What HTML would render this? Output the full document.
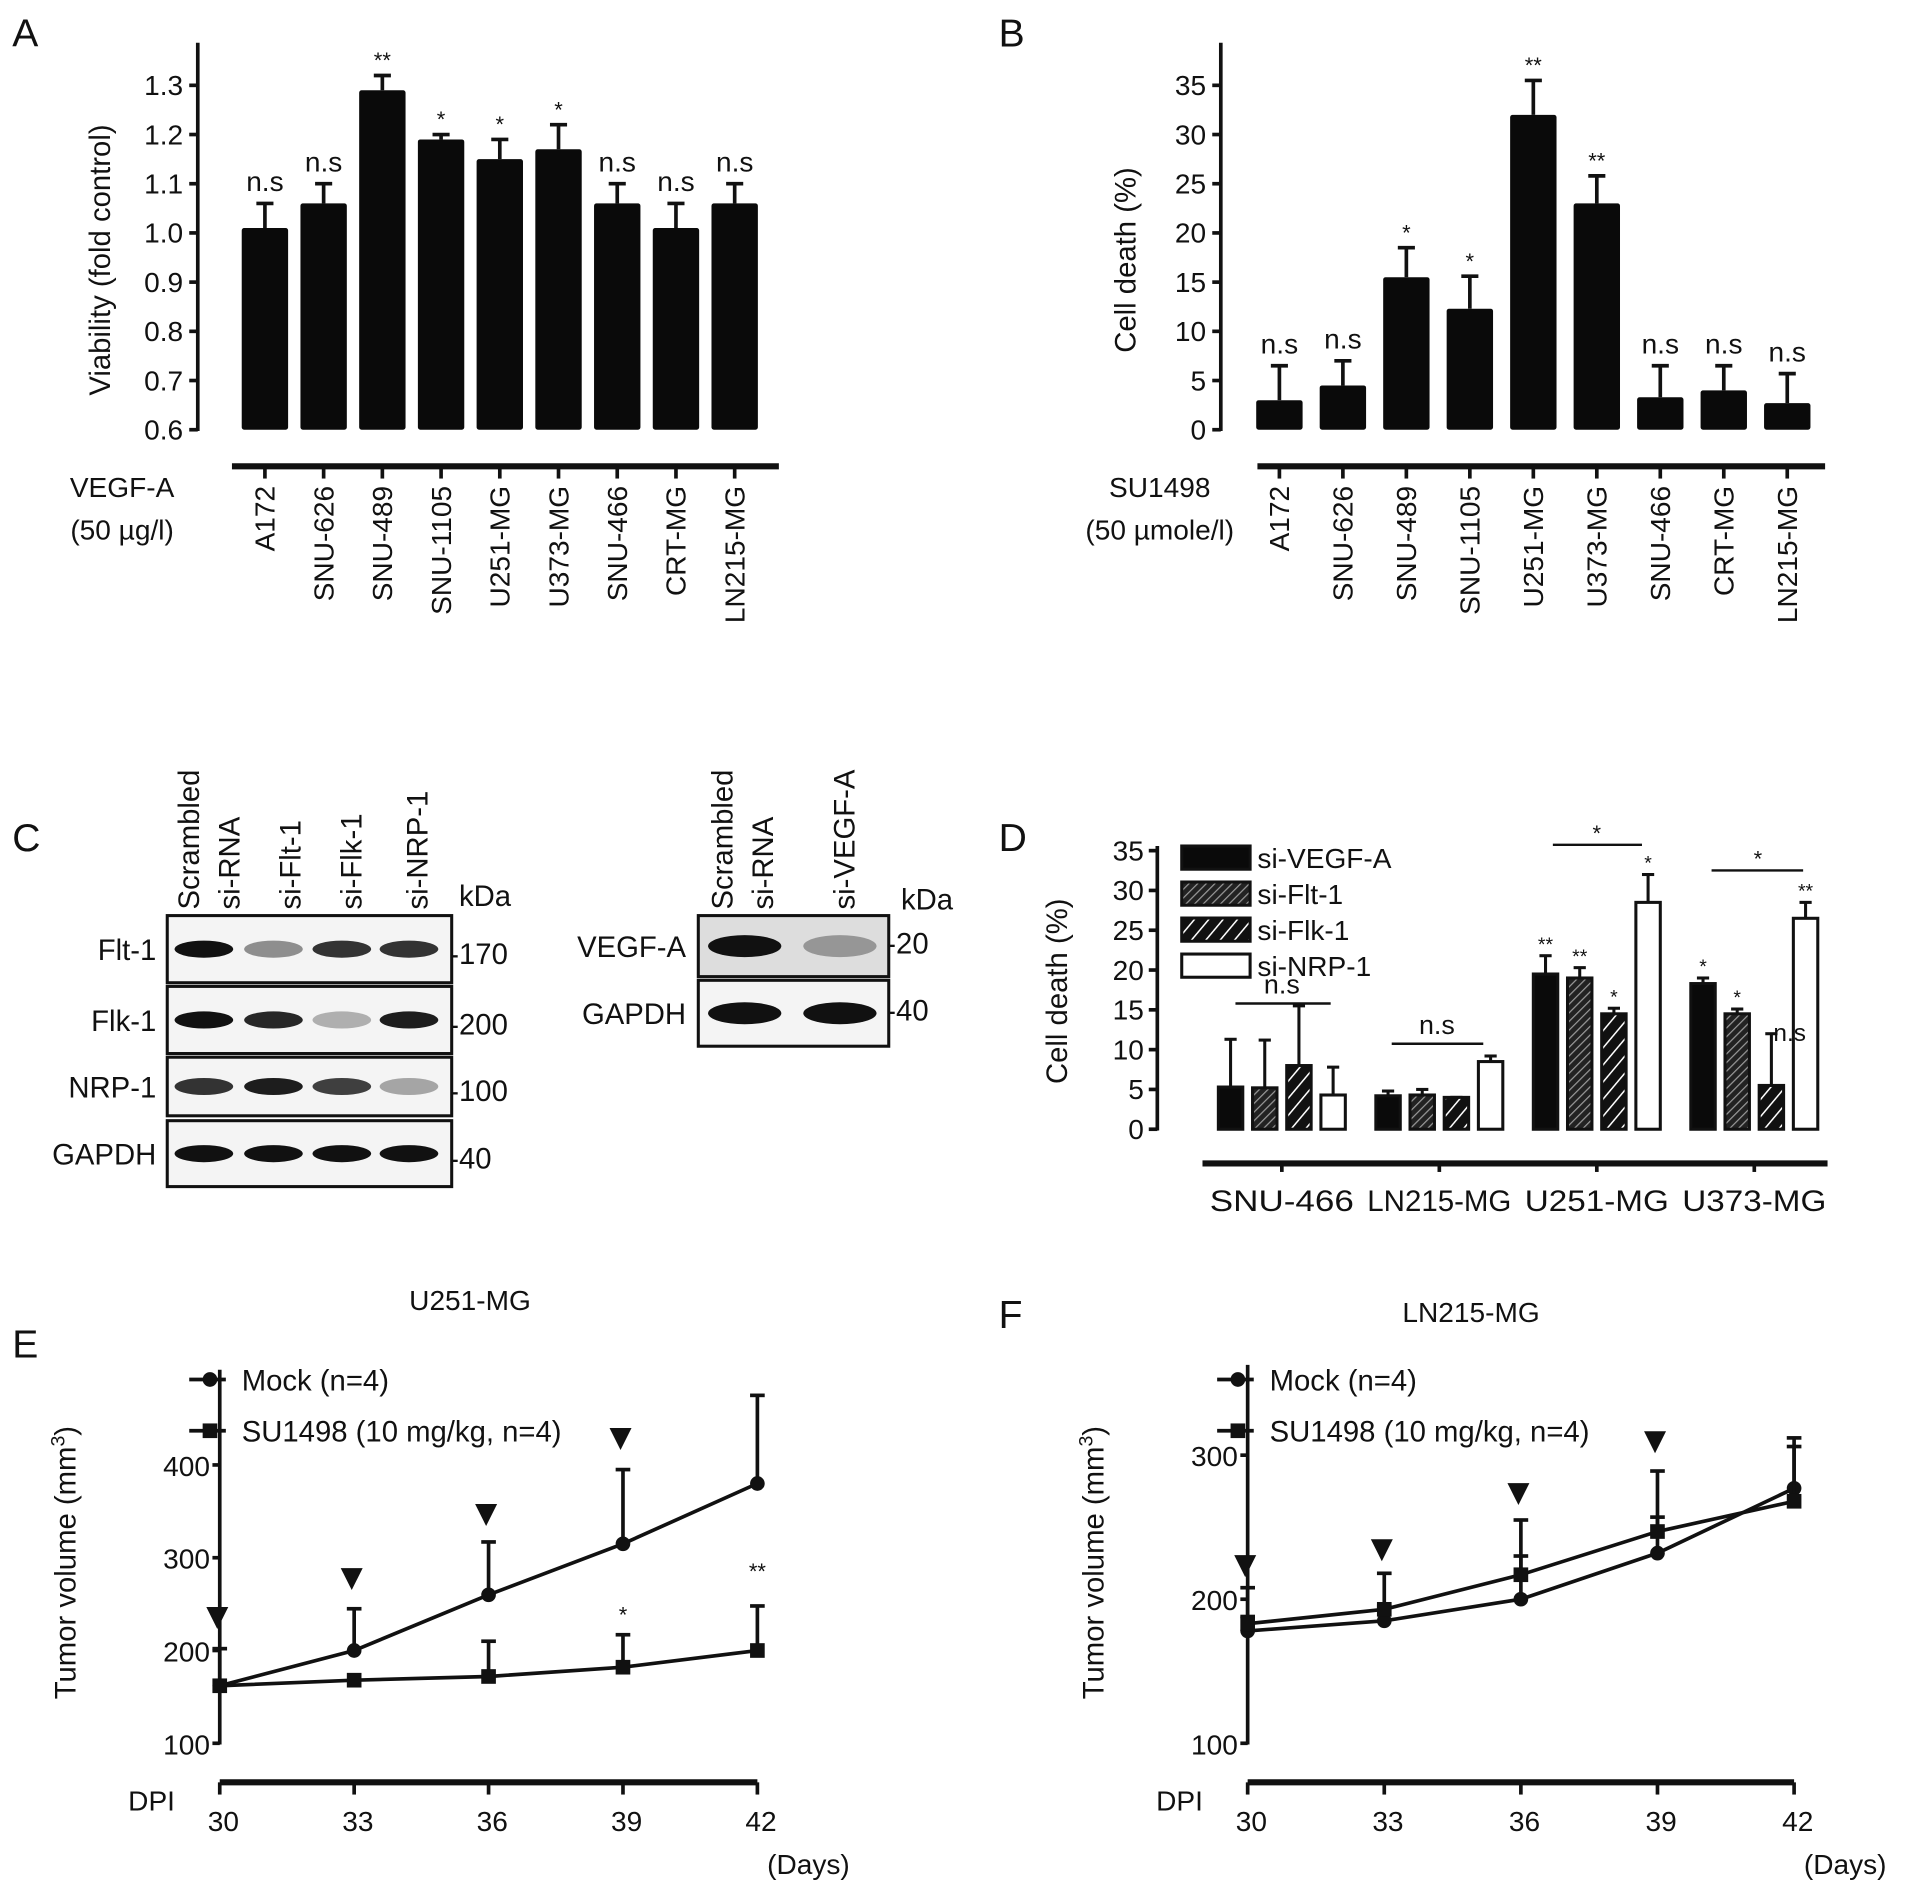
<!DOCTYPE html>
<html><head><meta charset="utf-8"><style>
html,body{margin:0;padding:0;background:#fff;}
svg{display:block;font-family:"Liberation Sans",sans-serif;}
</style></head>
<body>
<svg id="fig" width="1913" height="1891" viewBox="0 0 1567 1549" preserveAspectRatio="none" xmlns="http://www.w3.org/2000/svg">
<defs>
<pattern id="hatchFine" patternUnits="userSpaceOnUse" width="5" height="5" patternTransform="rotate(45)"><rect width="5" height="5" fill="#222"/><line x1="0" y1="0" x2="0" y2="5" stroke="#999" stroke-width="2"/></pattern>
<pattern id="hatchWide" patternUnits="userSpaceOnUse" width="9" height="9" patternTransform="rotate(40)"><rect width="9" height="9" fill="#111"/><line x1="0" y1="0" x2="0" y2="9" stroke="#fff" stroke-width="2.5"/></pattern>
</defs>
</svg>
<script>
// ---- Panel A data ----
const cellLines = ["A172","SNU-626","SNU-489","SNU-1105","U251-MG","U373-MG","SNU-466","CRT-MG","LN215-MG"];
const viabValues = [1.01,1.06,1.29,1.19,1.15,1.17,1.06,1.01,1.06];
const viabErrors = [0.05,0.04,0.03,0.01,0.04,0.05,0.04,0.05,0.04];
const viabSig = ["n.s","n.s","**","*","*","*","n.s","n.s","n.s"];
const viabTicks = [0.6,0.7,0.8,0.9,1.0,1.1,1.2,1.3];
// ---- Panel B data ----
const deathValues = [3,4.5,15.5,12.3,32,23,3.3,4,2.7];
const deathErrors = [3.5,2.5,3,3.3,3.5,2.8,3.2,2.5,3];
const deathSig = ["n.s","n.s","*","*","**","**","n.s","n.s","n.s"];
const deathTicks = [0,5,10,15,20,25,30,35];
// ---- Panel D data ----
const dGroups = ["SNU-466","LN215-MG","U251-MG","U373-MG"];
const dSeries = ["si-VEGF-A","si-Flt-1","si-Flk-1","si-NRP-1"];
const dVEGF = [5.3,4.2,19.5,18.3];
const dFlt = [5.2,4.3,19,14.5];
const dFlk = [8,4,14.5,5.5];
const dNRP = [4.3,8.5,28.5,26.5];
const dVEGFerr = [6,0.6,2.3,0.7];
const dFlterr = [6,0.7,1.3,0.6];
const dFlkerr = [7.5,0,0.7,6.5];
const dNRPerr = [3.5,0.7,3.5,2];
const dVEGFsig = ["","","**","*"];
const dFltsig = ["","","**","*"];
const dFlksig = ["","","*","n.s"];
const dNRPsig = ["","","*","**"];
// ---- Panel E data ----
const days = [30,33,36,39,42];
const eMock = [162,200,260,315,380];
const eMockErr = [40,45,57,80,95];
const eSU = [162,168,172,182,200];
const eSUErr = [0,0,38,35,48];
const eSig = ["","","","*","**"];
const eTicks = [100,200,300,400];
const eArrowVals = [235,277,346,428];
// ---- Panel F data ----
const fMock = [178,185,200,232,277];
const fMockErr = [10,10,30,25,35];
const fSU = [183,193,217,247,268];
const fSUErr = [25,25,38,42,38];
const fTicks = [100,200,300];
const fArrowVals = [223,234,273,309];

const svg = document.getElementById('fig');
const NS = "http://www.w3.org/2000/svg";
function mk(tag, attrs, parent){
  const e = document.createElementNS(NS, tag);
  for (const k in attrs) e.setAttribute(k, attrs[k]);
  (parent||svg).appendChild(e);
  return e;
}
function txt(x,y,s,size,anchor,parent,extra){
  const t = mk('text',Object.assign({x:x,y:y,'font-size':size,'text-anchor':anchor||'start',fill:'#111'},extra||{}),parent);
  t.textContent = s;
  return t;
}
let el;

[["A",10,38],["B",818,38],["C",10,697],["D",818,697],["E",10,1112],["F",818,1088]].forEach(p=>{
  el = txt(p[1],p[2],p[0],32,'start');
  
  
});

function barPanel(cfg){
  const g = mk('g',{});
  
  
  const y = v => cfg.y0 - (v - cfg.vmin) * cfg.pxPer;
  el = mk('line',{x1:cfg.ax,y1:cfg.axTop,x2:cfg.ax,y2:cfg.y0+1,stroke:'#111','stroke-width':3},g);
  
  
  cfg.ticks.forEach(t=>{
    el = mk('line',{x1:cfg.ax-7,y1:y(t),x2:cfg.ax,y2:y(t),stroke:'#111','stroke-width':3},g);
    
    
    el = txt(cfg.ax-12,y(t)+8,cfg.fmt(t),23,'end',g);
    
    
  });
  el = txt(0,0,cfg.ylabel,24,'middle',g,{transform:`translate(${cfg.ylx},${cfg.yly}) rotate(-90)`});
  
  
  cfg.values.forEach((v,i)=>{
    const cx = cfg.x0 + i*cfg.step;
    const top = y(v);
    el = mk('line',{x1:cx,y1:top,x2:cx,y2:y(v+cfg.errors[i]),stroke:'#111','stroke-width':3},g);
    
    
    el = mk('line',{x1:cx-7,y1:y(v+cfg.errors[i]),x2:cx+7,y2:y(v+cfg.errors[i]),stroke:'#111','stroke-width':3},g);
    
    
    el = mk('rect',{x:cx-19,y:top,width:38,height:cfg.y0-top,fill:'#0a0a0a',rx:2},g);
    
    
    const s = cfg.sig[i];
    el = txt(cx, y(v+cfg.errors[i]) - (s==='n.s'?10:6), s, s==='n.s'?23:18,'middle',g);
    
    
    el = mk('line',{x1:cx,y1:cfg.baseY,x2:cx,y2:cfg.baseY+10,stroke:'#111','stroke-width':3},g);
    
    
    el = txt(0,0,cfg.cats[i],23,'end',g,{transform:`translate(${cx+8},${cfg.baseY+16}) rotate(-90)`});
    
    
  });
  el = mk('line',{x1:cfg.bx1,y1:cfg.baseY,x2:cfg.bx2,y2:cfg.baseY,stroke:'#111','stroke-width':5},g);
  
  
  el = txt(cfg.tx,cfg.baseY+25,cfg.t1,23,'middle',g);
  
  
  el = txt(cfg.tx,cfg.baseY+60,cfg.t2,23,'middle',g);
  
  
}
barPanel({name:'panel-a-viability-chart',ax:162,axTop:35,y0:352,vmin:0.6,pxPer:403,ticks:viabTicks,fmt:t=>t.toFixed(1),
  ylabel:'Viability (fold control)',ylx:90,yly:213,values:viabValues,errors:viabErrors,sig:viabSig,cats:cellLines,
  x0:217,step:48.1,baseY:382,bx1:190,bx2:638,tx:100,t1:'VEGF-A',t2:'(50 µg/l)'});
barPanel({name:'panel-b-cell-death-chart',ax:1000,axTop:35,y0:352,vmin:0,pxPer:8.06,ticks:deathTicks,fmt:t=>String(t),
  ylabel:'Cell death (%)',ylx:930,yly:213,values:deathValues,errors:deathErrors,sig:deathSig,cats:cellLines,
  x0:1048,step:52,baseY:382,bx1:1030,bx2:1495,tx:950,t1:'SU1498',t2:'(50 µmole/l)'});

// ---------- Panel C ----------
const gC = mk('g',{});


const blot1Rows = [["Flt-1",750,805,"-170",[1,0.45,0.85,0.85]],["Flk-1",808,863,"-200",[1,0.9,0.3,0.95]],["NRP-1",866,914,"-100",[0.85,0.95,0.8,0.35]],["GAPDH",918,972,"-40",[1,1,1,1]]];
const lanes1 = [167,224,280,335];
blot1Rows.forEach(r=>{
  el = mk('rect',{x:137,y:r[1],width:233,height:r[2]-r[1],fill:'#f4f4f4',stroke:'#111','stroke-width':2.5},gC);
  
  
  lanes1.forEach((lx,i)=>{
    el = mk('ellipse',{cx:lx,cy:(r[1]+r[2])/2,rx:24,ry:7,fill:'#111','fill-opacity':r[4][i]},gC);
    
    
  });
  el = txt(128,(r[1]+r[2])/2+9,r[0],24,'end',gC);
  
  
  el = txt(368,(r[1]+r[2])/2+12,r[3],24,'start',gC);
  
  
});
[["Scrambled",163],["si-RNA",196],["si-Flt-1",246],["si-Flk-1",296],["si-NRP-1",350]].forEach(c=>{
  el = txt(0,0,c[0],24,'start',gC,{transform:`translate(${c[1]},745) rotate(-90)`});
  
  
});
el = txt(376,742,'kDa',24,'start',gC);


const blot2Rows = [["VEGF-A",750,800,"-20",[1,0.35]],["GAPDH",803,857,"-40",[1,1]]];
blot2Rows.forEach(r=>{
  el = mk('rect',{x:572,y:r[1],width:156,height:r[2]-r[1],fill:r[0]==='VEGF-A'?'#ddd':'#f4f4f4',stroke:'#111','stroke-width':2.5},gC);
  
  
  [610,688].forEach((lx,i)=>{
    el = mk('ellipse',{cx:lx,cy:(r[1]+r[2])/2,rx:30,ry:9,fill:'#111','fill-opacity':r[4][i]},gC);
    
    
  });
  el = txt(562,(r[1]+r[2])/2+9,r[0],24,'end',gC);
  
  
  el = txt(726,(r[1]+r[2])/2+6,r[3],24,'start',gC);
  
  
});
[["Scrambled",600],["si-RNA",633],["si-VEGF-A",700]].forEach(c=>{
  el = txt(0,0,c[0],24,'start',gC,{transform:`translate(${c[1]},745) rotate(-90)`});
  
  
});
el = txt(738,745,'kDa',24,'start',gC);



// ---------- Panel D ----------
const gD = mk('g',{});


const gDs = mk('g',{},gD);


const dY0 = 925, dPer = 6.52, dAx = 948;
const yD = v => dY0 - v*dPer;
el = mk('line',{x1:dAx,y1:693,x2:dAx,y2:dY0+1,stroke:'#111','stroke-width':3},gD);


deathTicks.forEach(t=>{
  el = mk('line',{x1:dAx-7,y1:yD(t),x2:dAx,y2:yD(t),stroke:'#111','stroke-width':3},gD);
  
  
  el = txt(dAx-11,yD(t)+8,String(t),23,'end',gD);
  
  
});
el = txt(0,0,'Cell death (%)',24,'middle',gD,{transform:'translate(874,812) rotate(-90)'});


const dFills = ['#0a0a0a','url(#hatchFine)','url(#hatchWide)','#fff'];
const dVals = [dVEGF,dFlt,dFlk,dNRP], dErrs=[dVEGFerr,dFlterr,dFlkerr,dNRPerr], dSigs=[dVEGFsig,dFltsig,dFlksig,dNRPsig];
const groupX = [1008,1137,1266,1395];
dGroups.forEach((gname,gi)=>{
  dSeries.forEach((sname,si)=>{
    const cx = groupX[gi] + si*28;
    const v = dVals[si][gi], e = dErrs[si][gi];
    el = mk('line',{x1:cx,y1:yD(v),x2:cx,y2:yD(v+e),stroke:'#111','stroke-width':2.5},gD);
    
    
    el = mk('line',{x1:cx-5,y1:yD(v+e),x2:cx+5,y2:yD(v+e),stroke:'#111','stroke-width':2.5},gD);
    
    
    el = mk('rect',{x:cx-10,y:yD(v),width:20,height:v*dPer,fill:dFills[si],stroke:'#111','stroke-width':2.5},gD);
    
    
    const s = dSigs[si][gi];
    if (s){
      el = txt(s==='n.s'?cx+15:cx,yD(v+e)-(s==='n.s'?-6:4),s,s==='n.s'?20:16,'middle',gDs);
      
      
    }
  });
  const gc = groupX[gi]+42;
  el = mk('line',{x1:gc,y1:953,x2:gc,y2:960,stroke:'#111','stroke-width':3},gD);
  
  
  el = txt(gc,992,gname,24,'middle',gD,{textLength:118,lengthAdjust:'spacingAndGlyphs'});
  
  
});
gD.appendChild(gDs);
el = mk('line',{x1:985,y1:953,x2:1497,y2:953,stroke:'#111','stroke-width':5},gD);


[[1012,1090,822,'n.s',1050],[1140,1215,855,'n.s',1177],[1272,1345,692,'*',1308],[1402,1477,713,'*',1440]].forEach(b=>{
  el = mk('line',{x1:b[0],y1:b[2],x2:b[1],y2:b[2],stroke:'#111','stroke-width':2},gD);
  
  
  el = txt(b[4],b[2]-(b[3]==='*'?3:8),b[3],b[3]==='*'?18:22,'middle',gD);
  
  
});
dSeries.forEach((s,i)=>{
  el = mk('rect',{x:968,y:693+i*29.5,width:56,height:19,fill:dFills[i],stroke:'#111','stroke-width':2.5},gD);
  
  
  el = txt(1030,711+i*29.5,s,23,'start',gD);
  
  
});

// ---------- Line charts E & F ----------
function linePanel(cfg){
  const g = mk('g',{});
  
  
  const y = v => cfg.y100 - (v-100)*cfg.pxPer;
  const x = d => cfg.x30 + (d-30)*cfg.pxDay;
  el = mk('line',{x1:cfg.ax,y1:cfg.axTop,x2:cfg.ax,y2:cfg.y100+1,stroke:'#111','stroke-width':3},g);
  
  
  cfg.ticks.forEach(t=>{
    el = mk('line',{x1:cfg.ax-6,y1:y(t),x2:cfg.ax,y2:y(t),stroke:'#111','stroke-width':3},g);
    
    
    el = txt(cfg.ax-8,y(t)+9,String(t),23,'end',g);
    
    
  });
  const yl = txt(0,0,'Tumor volume (mm',24,'middle',g,{transform:`translate(${cfg.ax-118},1280) rotate(-90)`});
  const sup = document.createElementNS(NS,'tspan');
  sup.setAttribute('dy','-9'); sup.setAttribute('font-size','16'); sup.textContent='3';
  yl.appendChild(sup);
  const cl = document.createElementNS(NS,'tspan');
  cl.setAttribute('dy','9'); cl.textContent=')';
  yl.appendChild(cl);
  
  
  el = mk('line',{x1:cfg.ax,y1:1460,x2:x(42),y2:1460,stroke:'#111','stroke-width':5},g);
  
  
  days.forEach(d=>{
    el = mk('line',{x1:x(d),y1:1460,x2:x(d),y2:1470,stroke:'#111','stroke-width':3},g);
    
    
    el = txt(x(d)+3,1500,String(d),23,'middle',g);
    
    
  });
  el = txt(cfg.ax-75,1483,'DPI',23,'start',g);
  
  
  el = txt(x(42)+8,1535,'(Days)',23,'start',g);
  
  
  el = txt(cfg.titleX,cfg.titleY,cfg.title,23,'middle',g);
  
  
  [[cfg.mock,cfg.mockErr,'mock'],[cfg.su,cfg.suErr,'su1498']].forEach(s=>{
    s[0].forEach((v,i)=>{
      if (s[1][i]>0){
        el = mk('line',{x1:x(days[i]),y1:y(v),x2:x(days[i]),y2:y(v+s[1][i]),stroke:'#111','stroke-width':3},g);
        
        
        el = mk('line',{x1:x(days[i])-6,y1:y(v+s[1][i]),x2:x(days[i])+6,y2:y(v+s[1][i]),stroke:'#111','stroke-width':3},g);
        
        
      }
    });
    el = mk('polyline',{points:s[0].map((v,i)=>x(days[i])+','+y(v)).join(' '),fill:'none',stroke:'#111','stroke-width':3},g);
    
    
    s[0].forEach((v,i)=>{
      if (s[2]==='mock') el = mk('circle',{cx:x(days[i]),cy:y(v),r:6,fill:'#111'},g);
      else el = mk('rect',{x:x(days[i])-6,y:y(v)-6,width:12,height:12,fill:'#111'},g);
      
      
    });
  });
  cfg.arrowVals.forEach((av,i)=>{
    const ax = x(days[i]) - 2;
    const ay = y(av);
    el = mk('polygon',{points:`${ax-9},${ay-9} ${ax+9},${ay-9} ${ax},${ay+9}`,fill:'#111'},g);
    
    
  });
  if (cfg.sig) cfg.sig.forEach((s,i)=>{
    if (!s) return;
    el = txt(x(days[i]),y(cfg.su[i]+cfg.suErr[i])-(s==='**'?22:10),s,18,'middle',g);
    
    
  });
  el = mk('line',{x1:cfg.ax-25,y1:1130,x2:cfg.ax+5,y2:1130,stroke:'#111','stroke-width':3},g);
  
  
  el = mk('circle',{cx:cfg.ax-8,cy:1130,r:6,fill:'#111'},g);
  
  
  el = txt(cfg.ax+18,1139,'Mock (n=4)',24,'start',g);
  
  
  el = mk('line',{x1:cfg.ax-25,y1:1172,x2:cfg.ax+5,y2:1172,stroke:'#111','stroke-width':3},g);
  
  
  el = mk('rect',{x:cfg.ax-14,y:1166,width:12,height:12,fill:'#111'},g);
  
  
  el = txt(cfg.ax+18,1181,'SU1498 (10 mg/kg, n=4)',24,'start',g);
  
  
}
linePanel({name:'panel-e-u251-tumor-chart',ax:180,axTop:1122,y100:1428,pxPer:0.76,x30:180,pxDay:36.7,ticks:eTicks,
  mock:eMock,mockErr:eMockErr,su:eSU,suErr:eSUErr,sig:eSig,arrowVals:eArrowVals,title:'U251-MG',titleX:385,titleY:1073});
linePanel({name:'panel-f-ln215-tumor-chart',ax:1022,axTop:1118,y100:1428,pxPer:1.18,x30:1022,pxDay:37.3,ticks:fTicks,
  mock:fMock,mockErr:fMockErr,su:fSU,suErr:fSUErr,sig:null,arrowVals:fArrowVals,title:'LN215-MG',titleX:1205,titleY:1083});
</script>
</body></html>
